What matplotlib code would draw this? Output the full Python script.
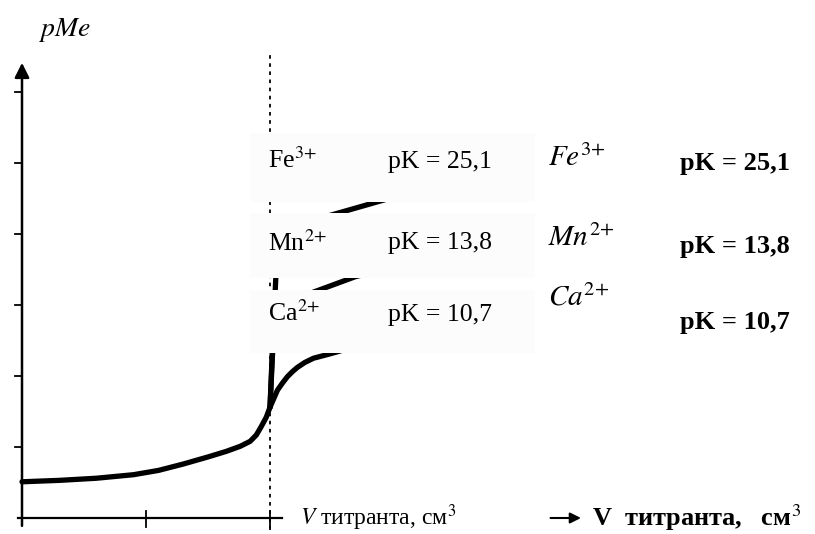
import matplotlib.pyplot as plt
from matplotlib.patches import Rectangle

plt.rcParams['font.family'] = ['Liberation Serif', 'DejaVu Serif']
plt.rcParams['mathtext.fontset'] = 'stix'

# Common part of the titration curve (before equivalence point)
v_common = [0.0, 0.3, 0.6, 0.9, 1.1, 1.3, 1.5, 1.65, 1.76, 1.84, 1.89, 1.93, 1.97, 2.0]
pme_common = [0.51, 0.53, 0.56, 0.61, 0.67, 0.76, 0.86, 0.94, 1.01, 1.08, 1.17, 1.29, 1.42, 1.56]

# Branches after the equivalence point
v_ca = [2.0, 2.03, 2.06, 2.10, 2.14, 2.18, 2.22, 2.28, 2.35, 2.48, 2.70, 2.97]
pme_ca = [1.56, 1.68, 1.80, 1.90, 1.99, 2.06, 2.12, 2.19, 2.25, 2.31, 2.42, 2.50]
v_mn = [2.0, 2.02, 2.04, 2.08, 2.15, 2.27, 2.69, 2.97]
pme_mn = [1.56, 2.30, 2.75, 2.92, 3.02, 3.13, 3.40, 3.52]
v_fe = [2.0, 2.02, 2.05, 2.10, 2.25, 2.40, 2.94, 2.97]
pme_fe = [1.56, 2.40, 3.50, 3.82, 4.06, 4.22, 4.49, 4.51]

ions = ['Fe', 'Mn', 'Ca']
charges = ['3', '2', '2']
pk_values = ['25,1', '13,8', '10,7']

v_eq = 2.0
y_ticks = [1, 2, 3, 4, 5, 6]
x_ticks = [1, 2]

fig = plt.figure(figsize=(8.15, 5.34), dpi=100)
ax = fig.add_axes([0, 0, 1, 1])
ax.set_xlim(-0.1774, 6.395)
ax.set_ylim(-0.2254, 7.296)
ax.axis('off')

# axes drawn by hand
ax.annotate('', xy=(0, 6.45), xytext=(0, -0.15),
            arrowprops=dict(arrowstyle='-|>', lw=1.8, color='k', mutation_scale=22))
ax.plot([-0.03, 2.1], [0, 0], color='k', lw=1.6)
for t in y_ticks:
    ax.plot([-0.06, 0], [t, t], color='k', lw=1.3)
for t in x_ticks:
    ax.plot([t, t], [-0.12, 0.1], color='k', lw=1.3)

# equivalence line
ax.plot([v_eq, v_eq], [-0.17, 6.52], color='k', lw=1.3, ls=(0, (2, 2.5)), zorder=1)

# curves
kw = dict(color='k', lw=3.8, solid_capstyle='round', solid_joinstyle='round', zorder=2)
ax.plot(v_common, pme_common, **kw)
ax.plot(v_ca, pme_ca, **kw)
ax.plot(v_mn, pme_mn, **kw)
ax.plot(v_fe, pme_fe, **kw)

# label boxes laid over the curves
boxes = [(4.45, 5.42), (3.38, 4.30), (2.32, 3.21)]
for y0, y1 in boxes:
    ax.add_patch(Rectangle((1.84, y0), 2.30, y1 - y0, fc='#fcfcfc', ec='none', zorder=3))

left_y = [5.04, 3.87, 2.89]
left_pk_y = [5.01, 3.87, 2.86]
for ion, ch, pk, y, yk in zip(ions, charges, pk_values, left_y, left_pk_y):
    ax.text(1.98, y, ion + '$^{' + ch + '{+}}$', fontsize=18.5, va='center', zorder=4)
    ax.text(2.95, yk, 'pK = ' + pk, fontsize=18.5, va='center', zorder=4)

right_y = [5.07, 3.94, 3.10]
right_pk_y = [5.0, 3.83, 2.76]
for ion, ch, pk, y, yk in zip(ions, charges, pk_values, right_y, right_pk_y):
    ax.text(4.24, y, '$' + ion + '^{' + ch + '{+}}$', fontsize=21, va='center', zorder=4)
    ax.text(5.31, yk, 'pK = ' + pk, fontsize=19, fontweight='bold', va='center', zorder=4)

# axis labels
ax.text(0.13, 6.87, '$pMe$', fontsize=20, va='center')
ax.text(2.24, 0.0, '$V$ титранта, см$^3$', fontsize=17, va='center')
ax.annotate('', xy=(4.53, 0.0), xytext=(4.24, 0.0),
            arrowprops=dict(arrowstyle='-|>', lw=1.5, color='k', mutation_scale=16))
ax.text(4.60, 0.0, 'V  титранта,   см$^3$', fontsize=19, fontweight='bold', va='center')

fig.savefig('out.png', dpi=100)
